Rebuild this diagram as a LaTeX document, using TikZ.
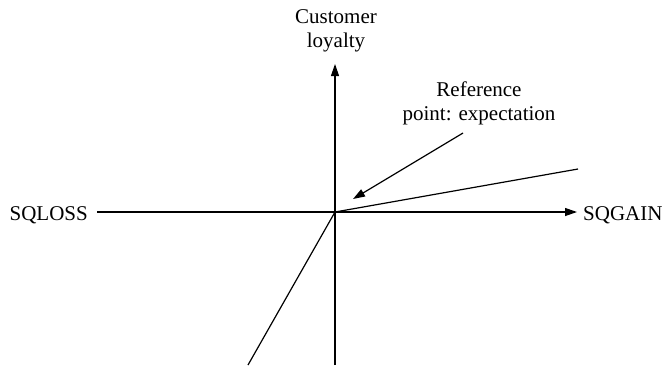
\documentclass[tikz,border=0pt]{standalone}
\usepackage{fontspec}
\setmainfont{Liberation Serif}
\usetikzlibrary{arrows.meta}
\begin{document}
\begin{tikzpicture}[x=1bp,y=-1bp,
  axis/.style={line width=1.2bp},
  arr/.style={line width=1.2bp,-{Triangle[length=12bp,width=8bp]}},
  lbl/.style={inner sep=0pt,font=\fontsize{21bp}{23.5bp}\selectfont,align=center}]
\useasboundingbox (0,0) rectangle (663,365);
\coordinate (O) at (335,212);
\coordinate (L) at (97,212);
\coordinate (R) at (577,212);
\coordinate (B) at (335,365);
\coordinate (T) at (335,64);
\coordinate (U) at (578,169);
\coordinate (D) at (248,365);
\coordinate (RS) at (463,133);
\coordinate (RE) at (353,199);
\node[lbl,anchor=base east] (loss) at (88,220) {SQLOSS};
\node[lbl,anchor=base west] (gain) at (583,220) {SQGAIN};
\node[lbl,anchor=south] (cl) at (336,52) {Customer\\loyalty};
\node[lbl,anchor=south] (ref) at (479,125) {Reference\\point: expectation};
\draw[arr] (L) -- (R);
\draw[arr] (B) -- (T);
\draw[axis] (O) -- (U);
\draw[axis] (O) -- (D);
\draw[arr] (RS) -- (RE);
\end{tikzpicture}
\end{document}
